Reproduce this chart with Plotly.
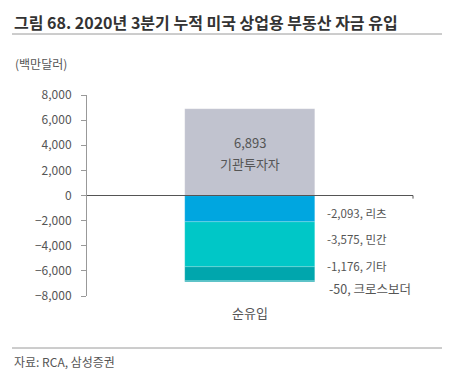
import plotly.graph_objects as go

categories = ["순유입"]
series_names = ["기관투자자", "리츠", "민간", "기타", "크로스보더"]
series_values = [6893, -2093, -3575, -1176, -50]
series_colors = ["#c1c3cf", "#00a6e0", "#00c7c7", "#00a6ad", "#00a0a8"]
y_ticks = [-8000, -6000, -4000, -2000, 0, 2000, 4000, 6000, 8000]

FONT = "Noto Sans CJK KR"
TXT = "#555555"

W, H = 452, 372
pl, pr, pt, pb = 87, 39, 95, 76
pw, ph = W - pl - pr, H - pt - pb
def px(x):
    return (x - pl) / pw
def py(y):
    return (H - pb - y) / ph

fig = go.Figure()
for name, val, col in zip(series_names, series_values, series_colors):
    fig.add_trace(go.Bar(
        x=categories, y=[val], name=name, width=0.4,
        marker=dict(color=col, line=dict(color="rgba(255,255,255,0.35)", width=0.5)),
        hoverinfo="skip",
    ))

# label inside the positive segment (value and name on two lines)
cum_pos = 0
cum = 0
neg_i = 0
yshifts = [-4, 5, 8, -6]
for name, val in zip(series_names, series_values):
    if val > 0:
        mid = cum_pos + val / 2
        cum_pos += val
        for txt, shift in ((f"{val:,}", 10), (name, -11)):
            fig.add_annotation(x=categories[0], y=mid, xref="x", yref="y", text=txt,
                               showarrow=False, xanchor="center", yanchor="middle",
                               yshift=shift, font=dict(family=FONT, size=13, color=TXT))
        continue
    mid = cum + val / 2
    cum += val
    is_last = neg_i == len(yshifts) - 1
    fig.add_annotation(
        x=0.2, y=(cum if is_last else mid), xref="x", yref="y",
        text=f"{val:,}, {name}", showarrow=False,
        xanchor="left", yanchor="middle", xshift=(12 if is_last else 10),
        yshift=yshifts[neg_i],
        font=dict(family=FONT, size=(12.5 if is_last else 11.5), color=TXT),
    )
    neg_i += 1

# zero line across category axis, with small end tick
fig.add_shape(type="line", xref="paper", yref="y", x0=0, x1=1, y0=0, y1=0,
              line=dict(color="#555555", width=1.2))
fig.add_shape(type="line", xref="paper", yref="y", x0=1, x1=1, y0=0, y1=-250,
              line=dict(color="#555555", width=1))

fig.add_annotation(x=px(12), y=py(22), xref="paper", yref="paper",
                   text="그림 68. 2020년 3분기 누적 미국 상업용 부동산 자금 유입",
                   showarrow=False, xanchor="left", yanchor="middle",
                   font=dict(family=FONT, size=16, color="#333333", weight=600))
fig.add_annotation(x=px(13), y=py(64), xref="paper", yref="paper", text="(백만달러)",
                   showarrow=False, xanchor="left", yanchor="middle",
                   font=dict(family=FONT, size=12, color=TXT))
fig.add_annotation(x=px(12), y=py(361), xref="paper", yref="paper", text="자료: RCA, 삼성증권",
                   showarrow=False, xanchor="left", yanchor="middle",
                   font=dict(family=FONT, size=12, color=TXT))
for yy in (34, 348):
    fig.add_shape(type="line", xref="paper", yref="paper", x0=px(12), x1=px(442),
                  y0=py(yy), y1=py(yy), line=dict(color="#9a9a9a", width=1))

fig.update_layout(
    width=W, height=H,
    margin=dict(l=pl, r=pr, t=pt, b=pb),
    paper_bgcolor="white", plot_bgcolor="white",
    barmode="relative", bargap=0, showlegend=False,
    font=dict(family=FONT, color=TXT),
    xaxis=dict(range=[-0.5, 0.5], showline=False, showgrid=False, zeroline=False,
               ticks="", tickfont=dict(family=FONT, size=13, color=TXT),
               ticklabelstandoff=8),
    yaxis=dict(range=[-8000, 8000], tickvals=y_ticks, tickformat=",",
               showgrid=False, zeroline=False, showline=True,
               linecolor="#999999", linewidth=1, ticks="outside", ticklen=5,
               tickcolor="#999999", ticklabelstandoff=7,
               tickfont=dict(family=FONT, size=12, color=TXT)),
)

fig.write_html("out.html", config={"displayModeBar": False},
               post_script="document.body.style.margin='0';document.body.style.overflow='hidden';")
